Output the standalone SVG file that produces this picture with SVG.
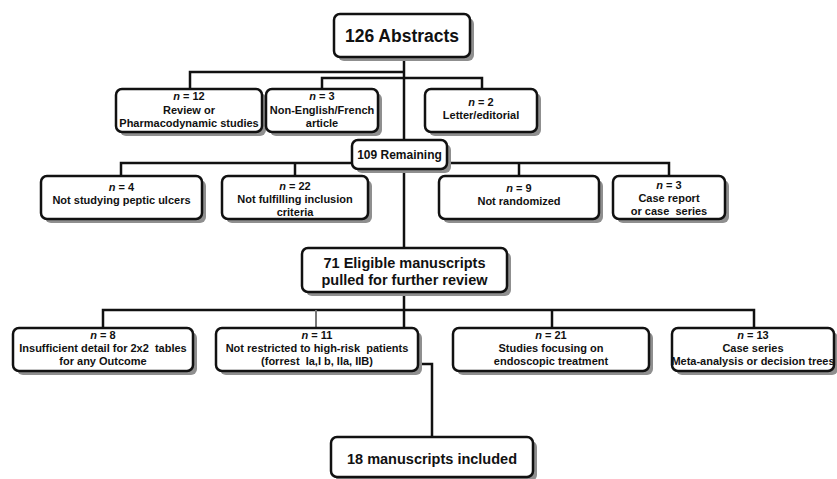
<svg xmlns="http://www.w3.org/2000/svg" width="837" height="479" viewBox="0 0 837 479">
<defs>
<style>
.box{fill:#fff;stroke:#111;stroke-width:2.5}
.sh{fill:#8f8f8f}
.t{font-family:"Liberation Sans",Arial,sans-serif;font-weight:bold;fill:#111;text-anchor:middle}
.s{font-size:11px}
.c{stroke:#111;stroke-width:2.5;fill:none}
.g{stroke:#777;stroke-width:2;fill:none}
.i{font-style:italic}
</style>
</defs>
<rect width="837" height="479" fill="#fff"/>
<g id="connectors">
<path class="c" d="M404 57 V140"/>
<path class="c" d="M404 72 H190 V89"/>
<path class="c" d="M322 89 V78 H482 V89"/>
<path class="c" d="M121 176 V163 H669 V176"/>
<path class="c" d="M295 163 V176"/>
<path class="c" d="M519 163 V176"/>
<path class="c" d="M404 169 V248"/>
<path class="c" d="M404 292 V328"/>
<path class="c" d="M103 328 V310 H754 V328"/>
<path class="g" d="M316 310 V328"/>
<path class="c" d="M552 310 V328"/>
<path class="c" d="M418 364 H432 V437"/>
</g>
<g id="abstracts">
<rect class="sh" x="338" y="18" width="136" height="43" rx="6"/>
<rect class="box" x="334" y="14" width="136" height="43" rx="6"/>
<text class="t" x="402" y="42" font-size="17.5">126 Abstracts</text>
</g>
<g id="n12">
<rect class="sh" x="120" y="93" width="146" height="43" rx="6"/>
<rect class="box" x="116" y="89" width="146" height="43" rx="6"/>
<text class="t s" x="189" y="100"><tspan class="i">n</tspan> = 12</text>
<text class="t s" x="189" y="113.5">Review or</text>
<text class="t s" x="189" y="127">Pharmacodynamic studies</text>
</g>
<g id="n3a">
<rect class="sh" x="270" y="93" width="112" height="43" rx="6"/>
<rect class="box" x="266" y="89" width="112" height="43" rx="6"/>
<text class="t s" x="322" y="100"><tspan class="i">n</tspan> = 3</text>
<text class="t s" x="322" y="113.5">Non-English/French</text>
<text class="t s" x="322" y="127">article</text>
</g>
<g id="n2">
<rect class="sh" x="429" y="93" width="112" height="43" rx="6"/>
<rect class="box" x="425" y="89" width="112" height="43" rx="6"/>
<text class="t s" x="481" y="106"><tspan class="i">n</tspan> = 2</text>
<text class="t s" x="481" y="119">Letter/editorial</text>
</g>
<g id="remaining">
<rect class="sh" x="356" y="144" width="95" height="29" rx="6"/>
<rect class="box" x="352" y="140" width="95" height="29" rx="6"/>
<text class="t" x="399.5" y="159" font-size="12">109 Remaining</text>
</g>
<g id="n4">
<rect class="sh" x="45" y="180" width="161" height="43" rx="6"/>
<rect class="box" x="41" y="176" width="161" height="43" rx="6"/>
<text class="t s" x="121.5" y="191"><tspan class="i">n</tspan> = 4</text>
<text class="t s" x="121.5" y="204">Not studying peptic ulcers</text>
</g>
<g id="n22">
<rect class="sh" x="226" y="180" width="146" height="43" rx="6"/>
<rect class="box" x="222" y="176" width="146" height="43" rx="6"/>
<text class="t s" x="295" y="190"><tspan class="i">n</tspan> = 22</text>
<text class="t s" x="295" y="203">Not fulfilling inclusion</text>
<text class="t s" x="295" y="216">criteria</text>
</g>
<g id="n9">
<rect class="sh" x="443" y="180" width="160" height="43" rx="6"/>
<rect class="box" x="439" y="176" width="160" height="43" rx="6"/>
<text class="t s" x="519" y="192"><tspan class="i">n</tspan> = 9</text>
<text class="t s" x="519" y="205">Not randomized</text>
</g>
<g id="n3b">
<rect class="sh" x="617" y="180" width="112" height="43" rx="6"/>
<rect class="box" x="613" y="176" width="112" height="43" rx="6"/>
<text class="t s" x="669" y="189"><tspan class="i">n</tspan> = 3</text>
<text class="t s" x="669" y="202">Case report</text>
<text class="t s" x="669" y="215">or case&#160; series</text>
</g>
<g id="eligible">
<rect class="sh" x="306" y="252" width="205" height="44" rx="6"/>
<rect class="box" x="302" y="248" width="205" height="44" rx="6"/>
<text class="t" x="404.5" y="268" font-size="14.5">71 Eligible manuscripts</text>
<text class="t" x="404.5" y="285" font-size="14.5">pulled for further review</text>
</g>
<g id="n8">
<rect class="sh" x="17" y="332" width="180" height="43" rx="6"/>
<rect class="box" x="13" y="328" width="180" height="43" rx="6"/>
<text class="t s" x="103" y="339"><tspan class="i">n</tspan> = 8</text>
<text class="t s" x="103" y="352">Insufficient detail for 2x2&#160; tables</text>
<text class="t s" x="103" y="365">for any Outcome</text>
</g>
<g id="n11">
<rect class="sh" x="220" y="332" width="202" height="43" rx="6"/>
<rect class="box" x="216" y="328" width="202" height="43" rx="6"/>
<text class="t s" x="317" y="339"><tspan class="i">n</tspan> = 11</text>
<text class="t s" x="317" y="352">Not restricted to high-risk&#160; patients</text>
<text class="t s" x="317" y="365">(forrest&#160; Ia,I b, IIa, IIB)</text>
</g>
<g id="n21">
<rect class="sh" x="457" y="332" width="196" height="43" rx="6"/>
<rect class="box" x="453" y="328" width="196" height="43" rx="6"/>
<text class="t s" x="551" y="339"><tspan class="i">n</tspan> = 21</text>
<text class="t s" x="551" y="352">Studies focusing on</text>
<text class="t s" x="551" y="365">endoscopic treatment</text>
</g>
<g id="n13">
<rect class="sh" x="676" y="332" width="162" height="43" rx="6"/>
<rect class="box" x="672" y="328" width="162" height="43" rx="6"/>
<text class="t s" x="753" y="339"><tspan class="i">n</tspan> = 13</text>
<text class="t s" x="753" y="352">Case series</text>
<text class="t s" x="753" y="365">Meta-analysis or decision trees</text>
</g>
<g id="included">
<rect class="sh" x="335" y="441" width="202" height="40" rx="6"/>
<rect class="box" x="331" y="437" width="202" height="40" rx="6"/>
<text class="t" x="432" y="464" font-size="14.5">18 manuscripts included</text>
</g>
</svg>
